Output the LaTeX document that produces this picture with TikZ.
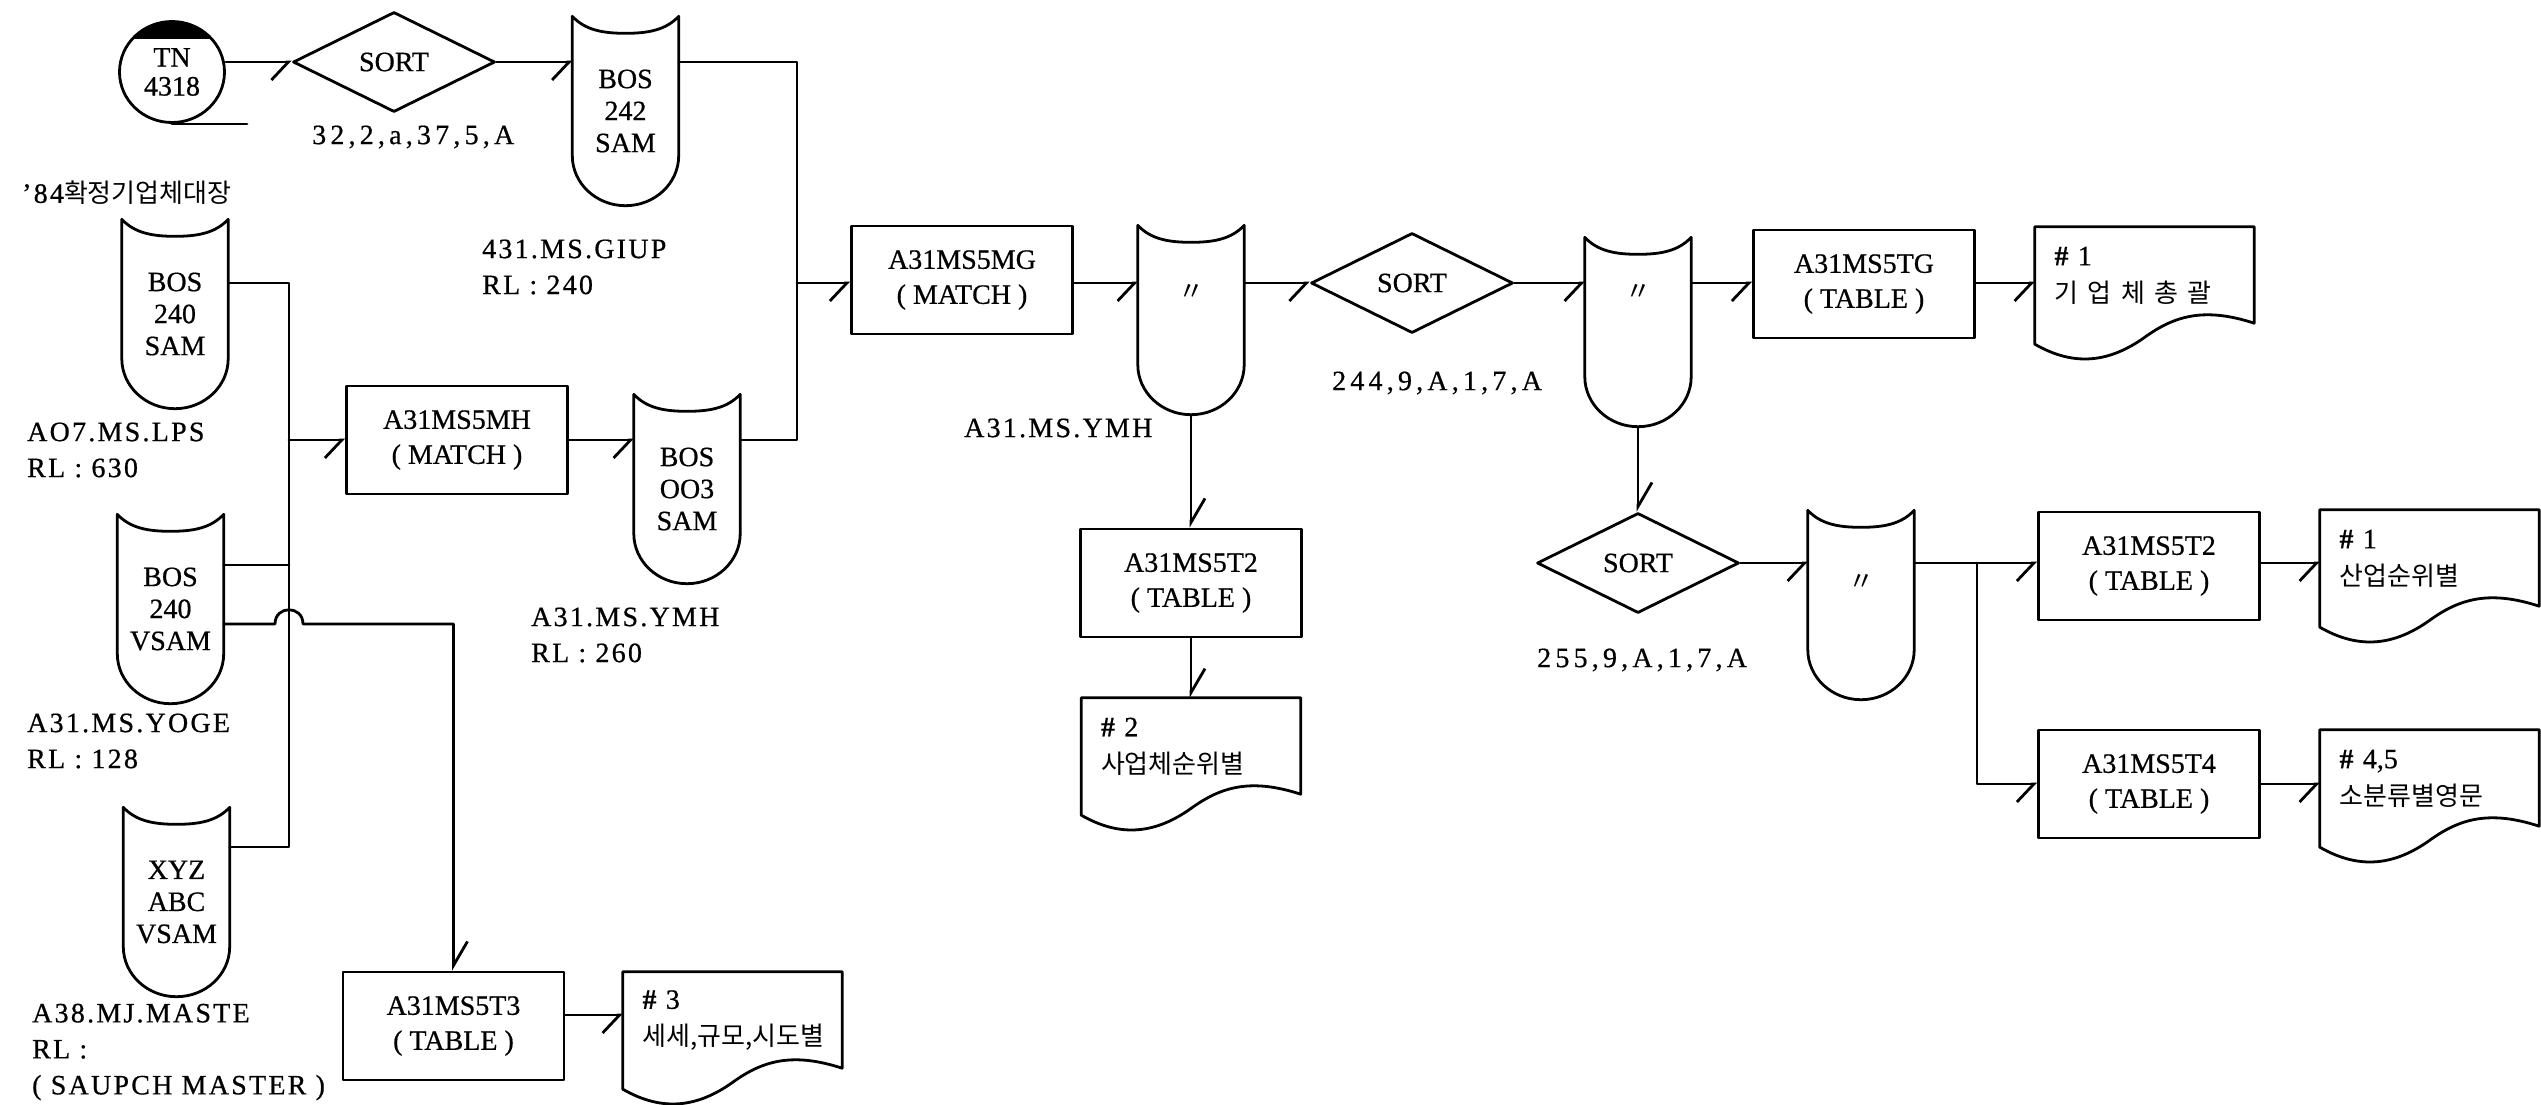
\documentclass[tikz,border=0pt]{standalone}
\usepackage{fontspec}
\setmainfont[FakeBold=0.6]{Liberation Serif}
\newfontfamily\cjkbase{Noto Sans CJK KR}
\newcommand\cjk{\cjkbase\fontsize{26}{37}\selectfont}
\newfontfamily\lblfont[LetterSpace=8,FakeBold=0.6]{Liberation Serif}
\newfontfamily\numfont[LetterSpace=15,FakeBold=0.6]{Liberation Serif}
\usetikzlibrary{arrows.meta,shapes.geometric,calc}

\tikzset{
  ln/.style={line width=2.8pt, line join=round, line cap=round},
  arrh/.style={ln, -{Straight Barb[right, length=17pt, width=36pt]}},
  arrv/.style={ln, -{Straight Barb[left, length=24pt, width=28pt]}},
  box/.style={draw, ln, rectangle, minimum width=221pt, minimum height=108pt, inner sep=0pt, align=center, font=\fontsize{28}{35}\selectfont},
  disk/.style={rectangle, inner sep=0pt, minimum width=106pt, minimum height=189pt, align=center, font=\fontsize{28}{32}\selectfont},
  docu/.style={rectangle, inner sep=0pt, minimum width=219pt, minimum height=97pt, text width=180pt, align=left, font=\fontsize{28}{37}\selectfont},
  sortd/.style={draw, ln, diamond, aspect=2, minimum width=202pt, minimum height=100pt, inner sep=0pt, font=\fontsize{28}{34}\selectfont},
  lbl/.style={inner sep=0pt, anchor=west, align=left, font=\lblfont\fontsize{28}{36}\selectfont},
  numlbl/.style={lbl, font=\numfont\fontsize{28}{36}\selectfont},
}

\newcommand\diskoutline[1]{%
  \draw[ln] (#1.north west)
    .. controls ($(#1.north west)+(13,14)$) and ($(#1.north)+(-22,17)$) .. ($(#1.north)+(0,17)$)
    .. controls ($(#1.north)+(22,17)$) and ($(#1.north east)+(-13,14)$) .. (#1.north east)
    -- ($(#1.south east)+(0,-50)$)
    .. controls ($(#1.south east)+(0,-22.4)$) and ($(#1.south)+(29.3,0)$) .. (#1.south)
    .. controls ($(#1.south)+(-29.3,0)$) and ($(#1.south west)+(0,-22.4)$) .. ($(#1.south west)+(0,-50)$)
    -- cycle;}

\newcommand\docoutline[1]{%
  \draw[ln] ($(#1.south west)+(0,20)$) -- (#1.north west) -- (#1.north east) -- ($(#1.south east)+(0,-1)$)
    .. controls ($(#1.south east)+(-49,-17)$) and ($(#1.south east)+(-79,-9)$) .. ($(#1.south west)+(110,13)$)
    .. controls ($(#1.south west)+(75,38)$) and ($(#1.south west)+(40,43)$) .. ($(#1.south west)+(0,20)$) -- cycle;}

\newcommand\shp{\textbf{\#}}

\begin{document}
\begin{tikzpicture}[x=1pt, y=-1pt]
\fill[white] (0,0) rectangle (2541,1104);
\useasboundingbox (0,0) rectangle (2541,1104);

% tape
\node[ellipse, draw, ln, minimum width=105pt, minimum height=101pt, inner sep=0pt, align=center,
      font=\fontsize{28}{29}\selectfont,
      path picture={\fill[black] (path picture bounding box.north west) rectangle ([yshift=-17pt]path picture bounding box.north east);}]
      (tn) at (172,72) {TN\\4318};
\draw[ln] (tn.south) -- ++(75,0);

% sorts
\node[sortd] (sort1) at (394,62) {SORT};
\node[sortd] (sort2) at (1412,283) {SORT};
\node[sortd] (sort3) at (1638,563) {SORT};

% disks
\node[disk] (bos242) at (625.5,111) {BOS\\242\\SAM};
\node[disk] (bos240s) at (175,314) {BOS\\240\\SAM};
\node[disk] (bos003) at (687,489) {BOS\\OO3\\SAM};
\node[disk] (bos240v) at (170.5,609) {BOS\\240\\VSAM};
\node[disk] (xyz) at (176.5,902) {XYZ\\ABC\\VSAM};
\node[disk] (d1) at (1191,320) {\raisebox{56pt}{\cjk 〃}};
\node[disk] (d2) at (1638,332) {\raisebox{80pt}{\cjk 〃}};
\node[disk] (d3) at (1861,605) {\raisebox{46pt}{\cjk 〃}};
\foreach \n in {bos242,bos240s,bos003,bos240v,xyz,d1,d2,d3}{\diskoutline{\n}}

% process boxes
\node[box] (mg) at (962,280) {A31MS5MG\\( MATCH )};
\node[box] (mh) at (457,440) {A31MS5MH\\( MATCH )};
\node[box] (t2m) at (1191,583) {A31MS5T2\\( TABLE )};
\node[box] (tg) at (1864,284) {A31MS5TG\\( TABLE )};
\node[box] (t2r) at (2149,566) {A31MS5T2\\( TABLE )};
\node[box] (t4) at (2149,784) {A31MS5T4\\( TABLE )};
\node[box] (t3) at (453.5,1026) {A31MS5T3\\( TABLE )};

% documents
\node[docu] (doc1) at (2144.5,275.5) {\shp{} 1\\{\cjk 기 업 체 총 괄}};
\node[docu] (docr1) at (2429.5,558.5) {\shp{} 1\\{\cjk 산업순위별}};
\node[docu] (doc45) at (2429.5,778.5) {\shp{} 4,5\\{\cjk 소분류별영문}};
\node[docu] (doc2) at (1191,746.5) {\shp{} 2\\{\cjk 사업체순위별}};
\node[docu] (doc3) at (732.5,1020.5) {\shp{} 3\\{\cjk 세세,규모,시도별}};
\foreach \n in {doc1,docr1,doc45,doc2,doc3}{\docoutline{\n}}

% labels
\node[numlbl] (l1) at (312,137) {32,2,a,37,5,A};
\node[lbl] (l2) at (482,267) {431.MS.GIUP\\RL : 240};
\node[lbl] (l3) at (22,193) {’84{\cjk 확정기업체대장}};
\node[lbl] (l4) at (27,450) {AO7.MS.LPS\\RL : 630};
\node[lbl] (l5) at (531,635) {A31.MS.YMH\\RL : 260};
\node[lbl] (l6) at (27,741) {A31.MS.YOGE\\RL : 128};
\node[lbl] (l7) at (32,1052) {A38.MJ.MASTE\\RL :\\( SAUPCH MASTER )};
\node[lbl] (l8) at (964,428) {A31.MS.YMH};
\node[numlbl] (l9) at (1332,383) {244,9,A,1,7,A};
\node[numlbl] (l10) at (1537,660) {255,9,A,1,7,A};

% junctions
\coordinate (busR) at (797,283);
\coordinate (bL1) at (289,283);
\coordinate (bL4) at (289,847);
\coordinate (h1) at (275,624);
\coordinate (h2) at (303,624);
\coordinate (br) at (1977,563);

% connectors top row
\draw[arrh] (tn.east |- sort1.west) -- (sort1.west);
\draw[arrh] (sort1.east) -- (bos242.west |- sort1.east);
\draw[ln] (bos242.east |- sort1.east) -| (busR) |- (bos003.east |- mh.east);
\draw[arrh] (busR) -- (mg.west |- busR);
\draw[arrh] (mh.east) -- (bos003.west |- mh.east);
\draw[arrh] (mg.east |- busR) -- (d1.west |- busR);
\draw[arrh] (d1.east |- busR) -- (sort2.west);
\draw[arrh] (sort2.east) -- (d2.west |- sort2.east);
\draw[arrh] (d2.east |- sort2.east) -- (tg.west |- sort2.east);
\draw[arrh] (tg.east |- sort2.east) -- (doc1.west |- sort2.east);

% verticals in middle
\draw[arrv] (d1.south) -- (t2m.north);
\draw[arrv] (t2m.south) -- (doc2.north);
\draw[arrv] (d2.south) -- (sort3.north);

% right lower
\draw[arrh] (sort3.east) -- (d3.west |- sort3.east);
\draw[arrh] (d3.east |- sort3.east) -- (t2r.west |- sort3.east);
\draw[arrh] (br) |- (t4.west);
\draw[arrh] (t2r.east |- sort3.east) -- (docr1.west |- sort3.east);
\draw[arrh] (t4.east) -- (doc45.west |- t4.east);

% left bus
\draw[ln] (bos240s.east |- bL1) -- (bL1) -- (bL4) -- (xyz.east |- bL4);
\draw[arrh] (bL1 |- mh.west) -- (mh.west);
\draw[ln] (bos240v.east |- 0,565) -- (bL1 |- 0,565);
\draw[arrv] (bos240v.east |- h1) -- (h1) .. controls +(0,-19) and +(0,-19) .. (h2) -| (t3.north);
\draw[arrh] (t3.east |- 0,1015) -- (doc3.west |- 0,1015);
\end{tikzpicture}
\end{document}
